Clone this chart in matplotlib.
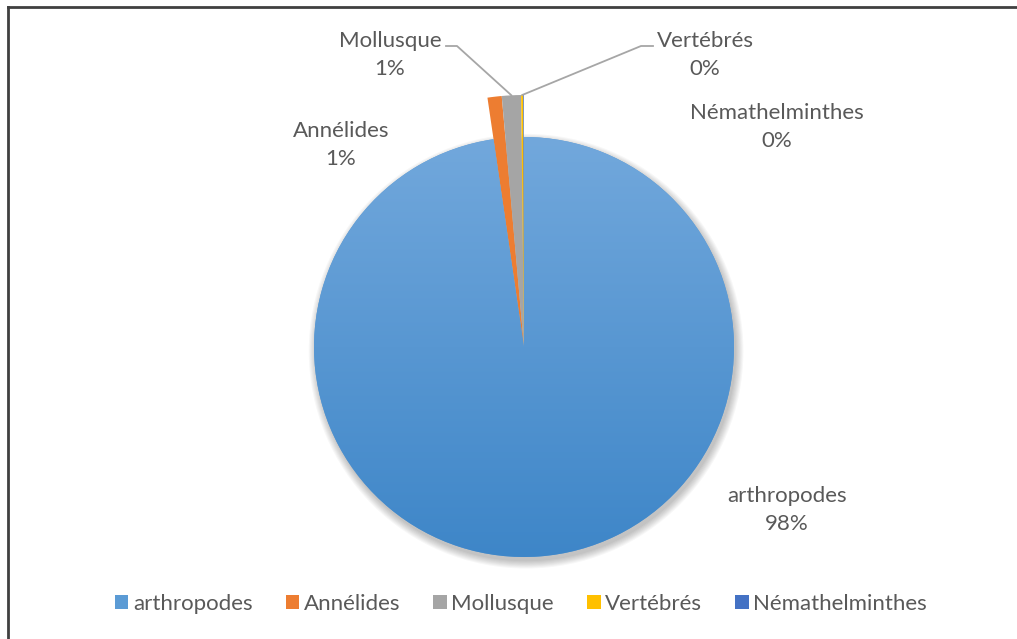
import numpy as np
import matplotlib.pyplot as plt
from matplotlib.lines import Line2D
from matplotlib.patches import Circle
from matplotlib.colors import LinearSegmentedColormap

# data
categories = ['arthropodes', 'Annélides', 'Mollusque', 'Vertébrés', 'Némathelminthes']
counts = [2150, 20, 27, 3, 1]
colors = ['#5B9BD5', '#ED7D31', '#A5A5A5', '#FFC000', '#4472C4']

plt.rcParams['font.family'] = ['Lato', 'DejaVu Sans']
text_color = '#595959'

W, H = 1017, 639
fig = plt.figure(figsize=(W / 100, H / 100), dpi=100)

# pie centre / radius in pixels
cx, cy, R = 524, 347, 210
half = 300
ax = fig.add_axes([(cx - half) / W, (H - cy - half) / H, 2 * half / W, 2 * half / H])

wedges, _ = ax.pie(counts, colors=colors, startangle=90, counterclock=False,
                   radius=1, wedgeprops=dict(linewidth=0))
# the small slices stick out above the big one
for w in wedges[1:]:
    w.set_radius(1.2)

# gradient on the big slice
grad = np.linspace(0, 1, 256).reshape(-1, 1)
cmap = LinearSegmentedColormap.from_list('g', ['#3E86C8', '#72A8DC'])
im = ax.imshow(grad, extent=(-1, 1, -1, 1), origin='lower', cmap=cmap,
               aspect='auto', zorder=wedges[0].get_zorder() + 0.1)
im.set_clip_path(wedges[0])

# soft shadow
for k in range(8):
    ax.add_patch(Circle((0.01, -0.02), 1 + 0.005 * k, color='black',
                        alpha=0.03, lw=0, zorder=0))

ax.set_xlim(-half / R, half / R)
ax.set_ylim(-half / R, half / R)
ax.set_aspect('equal')
ax.axis('off')

# labels
total = sum(counts)
label_px = [(787, 510), (341, 145), (390, 55), (705, 55), (777, 127)]
for name, c, (px, py) in zip(categories, counts, label_px):
    fig.text(px / W, 1 - py / H, f"{name}\n{round(c / total * 100)}%",
             ha='center', va='center', fontsize=16, color=text_color,
             linespacing=1.5)

# leader lines for Mollusque and Vertébrés
def edge_px(w):
    t = np.deg2rad((w.theta1 + w.theta2) / 2)
    return ax.transData.transform((w.r * np.cos(t), w.r * np.sin(t)))

for idx, (x0, x1) in [(2, (446, 457)), (3, (653, 641))]:
    ex, ey = edge_px(wedges[idx])
    xs = [x0, x1, ex]
    ys = [H - 46, H - 46, ey]
    fig.add_artist(Line2D(np.array(xs) / W, np.array(ys) / H, color='#A6A6A6',
                          lw=1.3, transform=fig.transFigure))

fig.legend(wedges, categories, loc='center', bbox_to_anchor=(521 / W, 1 - 604 / H),
           ncol=5, frameon=False, fontsize=16, handlelength=0.6, handleheight=0.6,
           handletextpad=0.2, columnspacing=1.5, labelcolor=text_color)

# chart frame (cropped at right and bottom)
fig.add_artist(Line2D([8 / W, 8 / W], [0, 1 - 7 / H], color='#404040', lw=2,
                      transform=fig.transFigure))
fig.add_artist(Line2D([8 / W, 1], [1 - 7 / H, 1 - 7 / H], color='#404040', lw=2,
                      transform=fig.transFigure))

fig.savefig('out.png', dpi=100)
